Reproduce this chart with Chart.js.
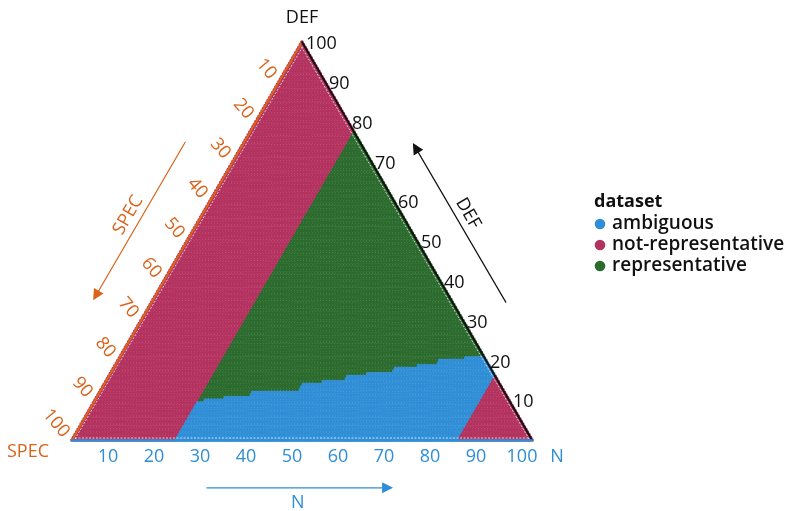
<!DOCTYPE html>
<html>
<head>
<meta charset="utf-8">
<script src="https://cdn.jsdelivr.net/npm/chart.js@4"></script>
<style>
  html, body { margin: 0; padding: 0; background: #ffffff; }
  canvas { display: block; }
</style>
</head>
<body>
<canvas id="tern" width="785" height="511"></canvas>
<script>
// Dataset classes shown in the legend, in legend order
const classNames = ['ambiguous', 'not-representative', 'representative'];
const classColors = ['#2F8ED6', '#B3325F', '#2C6B2E'];

// Tick values for the three ternary axes
const nTicks = [10, 20, 30, 40, 50, 60, 70, 80, 90, 100];
const defTicks = [10, 20, 30, 40, 50, 60, 70, 80, 90, 100];
const specTicks = [10, 20, 30, 40, 50, 60, 70, 80, 90, 100];

// Composition lattice resolution (steps per edge)
const latticeSteps = 150;

// N limits: outside [low, high] a composition is not-representative
const notRepN = [22.5, 83.5];

// Upper DEF limit of the ambiguous band, by N (step starts)
const ambigFromN = [22.5, 24, 28, 33, 43, 47, 52, 56, 61, 65.5, 70, 75, 79];
const ambigDEF   = [9.5, 10.3, 11.2, 12.1, 14.1, 15.1, 16.1, 17.1, 18.2, 19.1, 20.1, 21.1, 22];

const SQ3 = Math.sqrt(3) / 2;
// ternary (N, DEF) -> cartesian data units; SPEC = 100 - N - DEF
function tern(n, d) { return { x: n + d / 2, y: d * SQ3 }; }

function ambigLimit(n) {
  let lim = ambigDEF[0];
  for (let k = 0; k < ambigFromN.length; k++) if (n >= ambigFromN[k]) lim = ambigDEF[k];
  return lim;
}

const buckets = [[], [], []];
for (let i = 0; i <= latticeSteps; i++) {
  for (let j = 0; j <= latticeSteps - i; j++) {
    const n = 100 * i / latticeSteps;
    const d = 100 * j / latticeSteps;
    let cls;
    if (n < notRepN[0] || n > notRepN[1]) cls = 1;
    else if (d < ambigLimit(n)) cls = 0;
    else cls = 2;
    buckets[cls].push(tern(n, d));
  }
}

const FONT = '"Open Sans", "DejaVu Sans", sans-serif';
const ORANGE = '#DB6219';
const BLUE = '#2F8ED6';
const BLACK = '#111111';

const ternaryAxes = {
  id: 'ternaryAxes',
  afterDatasetsDraw(chart) {
    const { ctx, scales } = chart;
    const px = (p) => ({ x: scales.x.getPixelForValue(p.x), y: scales.y.getPixelForValue(p.y) });
    const P = (n, d) => px(tern(n, d));
    const D = (x, y) => px({ x, y });

    const bl = P(0, 0), br = P(100, 0), ap = P(0, 100);

    ctx.save();
    // thin white seam just inside each edge
    ctx.strokeStyle = 'rgba(255,255,255,0.7)';
    ctx.lineWidth = 1;
    ctx.setLineDash([2, 1.5]);
    ctx.beginPath(); ctx.moveTo(bl.x + 3, bl.y - 2); ctx.lineTo(br.x - 3, br.y - 2); ctx.stroke();
    ctx.beginPath(); ctx.moveTo(bl.x + 3, bl.y - 1); ctx.lineTo(ap.x + 1, ap.y + 4); ctx.stroke();
    ctx.beginPath(); ctx.moveTo(br.x - 3, br.y - 1); ctx.lineTo(ap.x - 1, ap.y + 4); ctx.stroke();
    ctx.setLineDash([]);

    // triangle edges
    ctx.lineCap = 'round';
    ctx.lineWidth = 2;
    ctx.strokeStyle = ORANGE;
    ctx.beginPath(); ctx.moveTo(bl.x, bl.y); ctx.lineTo(ap.x, ap.y); ctx.stroke();
    ctx.strokeStyle = BLACK;
    ctx.beginPath(); ctx.moveTo(br.x, br.y); ctx.lineTo(ap.x, ap.y); ctx.stroke();
    ctx.lineWidth = 2.5;
    ctx.strokeStyle = BLUE;
    ctx.beginPath(); ctx.moveTo(bl.x, bl.y + 0.5); ctx.lineTo(br.x, br.y + 0.5); ctx.stroke();

    // N tick labels along the bottom edge
    ctx.font = '18px ' + FONT;
    ctx.fillStyle = BLUE;
    ctx.textAlign = 'center';
    ctx.textBaseline = 'middle';
    nTicks.forEach(v => {
      const p = P(v, 0);
      ctx.fillText(String(v), p.x - 10, p.y + 17);
    });

    // DEF tick labels along the right edge
    ctx.fillStyle = BLACK;
    ctx.textAlign = 'left';
    defTicks.forEach(v => {
      const p = P(100 - v, v);
      ctx.fillText(String(v), p.x + 4, p.y + 2);
    });

    // SPEC tick labels along the left edge (rotated)
    ctx.fillStyle = ORANGE;
    ctx.textAlign = 'right';
    specTicks.forEach(v => {
      const p = P(0, 100 - v);
      ctx.save();
      ctx.translate(p.x - 6, p.y - 5);
      ctx.rotate(50 * Math.PI / 180);
      ctx.fillText(String(v), 0, 0);
      ctx.restore();
    });

    // vertex titles
    ctx.textAlign = 'center';
    ctx.font = '18px ' + FONT;
    ctx.fillStyle = BLACK;
    ctx.fillText('DEF', ap.x, ap.y - 24);
    ctx.fillStyle = ORANGE;
    ctx.fillText('SPEC', bl.x - 44, bl.y + 12);
    ctx.fillStyle = BLUE;
    ctx.fillText('N', br.x + 25, br.y + 17);

    // direction arrows
    function arrow(a, b, color) {
      ctx.strokeStyle = color; ctx.fillStyle = color; ctx.lineWidth = 1.2;
      const ang = Math.atan2(b.y - a.y, b.x - a.x);
      const hl = 11, hw = 5.5;
      const bx = b.x - hl * Math.cos(ang), by = b.y - hl * Math.sin(ang);
      ctx.beginPath(); ctx.moveTo(a.x, a.y); ctx.lineTo(bx, by); ctx.stroke();
      ctx.beginPath();
      ctx.moveTo(b.x, b.y);
      ctx.lineTo(bx + hw * Math.sin(ang), by - hw * Math.cos(ang));
      ctx.lineTo(bx - hw * Math.sin(ang), by + hw * Math.cos(ang));
      ctx.closePath(); ctx.fill();
    }
    arrow(D(24.6, 64.8), D(4.6, 30.4), ORANGE);
    arrow(D(94.3, 30.0), D(74.1, 64.6), BLACK);
    arrow(D(29.3, -10.4), D(69.8, -10.4), BLUE);

    function rotText(t, p, deg, color) {
      ctx.save();
      ctx.fillStyle = color;
      ctx.translate(p.x, p.y);
      ctx.rotate(deg * Math.PI / 180);
      ctx.fillText(t, 0, 0);
      ctx.restore();
    }
    ctx.font = '18px ' + FONT;
    ctx.textAlign = 'center';
    rotText('SPEC', D(12.2, 48.9), -60, ORANGE);
    rotText('DEF', D(86.1, 49.3), 60, BLACK);
    rotText('N', D(49.1, -13.7), 0, BLUE);

    // legend
    ctx.textAlign = 'left';
    ctx.textBaseline = 'middle';
    ctx.fillStyle = BLACK;
    ctx.font = 'bold 18px ' + FONT;
    ctx.fillText('dataset', 594, 202);
    ctx.font = '600 19px ' + FONT;
    chart.data.datasets.forEach((ds, k) => {
      const y = 224 + k * 21;
      ctx.fillStyle = ds.backgroundColor;
      ctx.beginPath(); ctx.arc(600, y, 5.3, 0, Math.PI * 2); ctx.fill();
      ctx.fillStyle = BLACK;
      ctx.fillText(ds.label, 612, y);
    });
    ctx.restore();
  }
};

new Chart(document.getElementById('tern'), {
  type: 'scatter',
  data: {
    datasets: classNames.map((name, k) => ({
      label: name,
      data: buckets[k],
      backgroundColor: classColors[k],
      borderWidth: 0,
      pointRadius: 1.85,
      pointHoverRadius: 1.85,
      clip: false
    }))
  },
  options: {
    responsive: false,
    animation: false,
    devicePixelRatio: 1,
    events: [],
    layout: { padding: { left: 72, right: 253, top: 42, bottom: 71 } },
    scales: {
      x: { type: 'linear', min: 0, max: 100, display: false },
      y: { type: 'linear', min: 0, max: 100 * SQ3, display: false }
    },
    plugins: { legend: { display: false }, tooltip: { enabled: false } }
  },
  plugins: [ternaryAxes]
});
</script>
</body>
</html>
